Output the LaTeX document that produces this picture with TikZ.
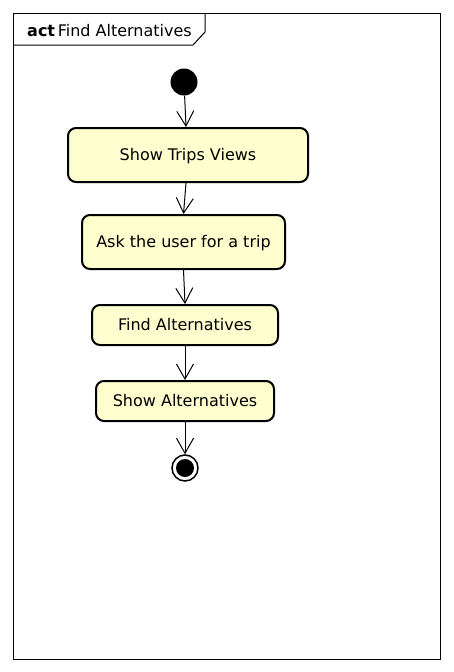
\documentclass[tikz,border=0pt]{standalone}
\usepackage{fontspec}
\setmainfont{DejaVu Sans}
\usetikzlibrary{arrows.meta}
\definecolor{actfill}{HTML}{FEFECE}
\tikzstyle{action} = [rectangle, rounded corners=8, text centered, text height=12, text depth=2, draw=black, line width=2, fill=actfill, font=\fontsize{16}{18}\selectfont]
\tikzstyle{startnode} = [circle, minimum size=27, inner sep=0, fill=black]
\tikzstyle{endnode} = [circle, minimum size=26, inner sep=0, draw=black, line width=1.5, fill=white, path picture={\fill[black] (path picture bounding box.center) circle (9);}]
\tikzstyle{arrow} = [line width=1, -{Straight Barb[length=15,width=17,line width=1]}]

\begin{document}
\begin{tikzpicture}[x=1pt, y=-1pt]
\useasboundingbox (0,0) rectangle (453,672);
% frame
\draw[line width=1] (13,13) rectangle (440,659);
\draw[line width=1] (13,45) -- (193,45) -- (205,32) -- (205,13);
\node (title) [anchor=base west, inner sep=0, font=\fontsize{16}{18}\selectfont] at (27,36) {\textbf{act}\,Find Alternatives};
\node (start) [startnode] at (184,82) {};
\node (trips) [action, minimum width=240, minimum height=54] at (188,155) {Show Trips Views};
\node (ask) [action, minimum width=203, minimum height=54] at (183.5,242) {Ask the user for a trip};
\node (find) [action, minimum width=186, minimum height=40] at (185,325) {Find Alternatives};
\node (show) [action, minimum width=178, minimum height=40] at (185,401) {Show Alternatives};
\node (stop) [endnode] at (185,468) {};
\draw [arrow] (start) -- ([xshift=-2]trips.north);
\draw [arrow] ([xshift=-2]trips.south) -- (ask.north);
\draw [arrow] (ask.south) -- (find.north);
\draw [arrow] (find) -- (show);
\draw [arrow] (show) -- (stop);
\end{tikzpicture}
\end{document}
